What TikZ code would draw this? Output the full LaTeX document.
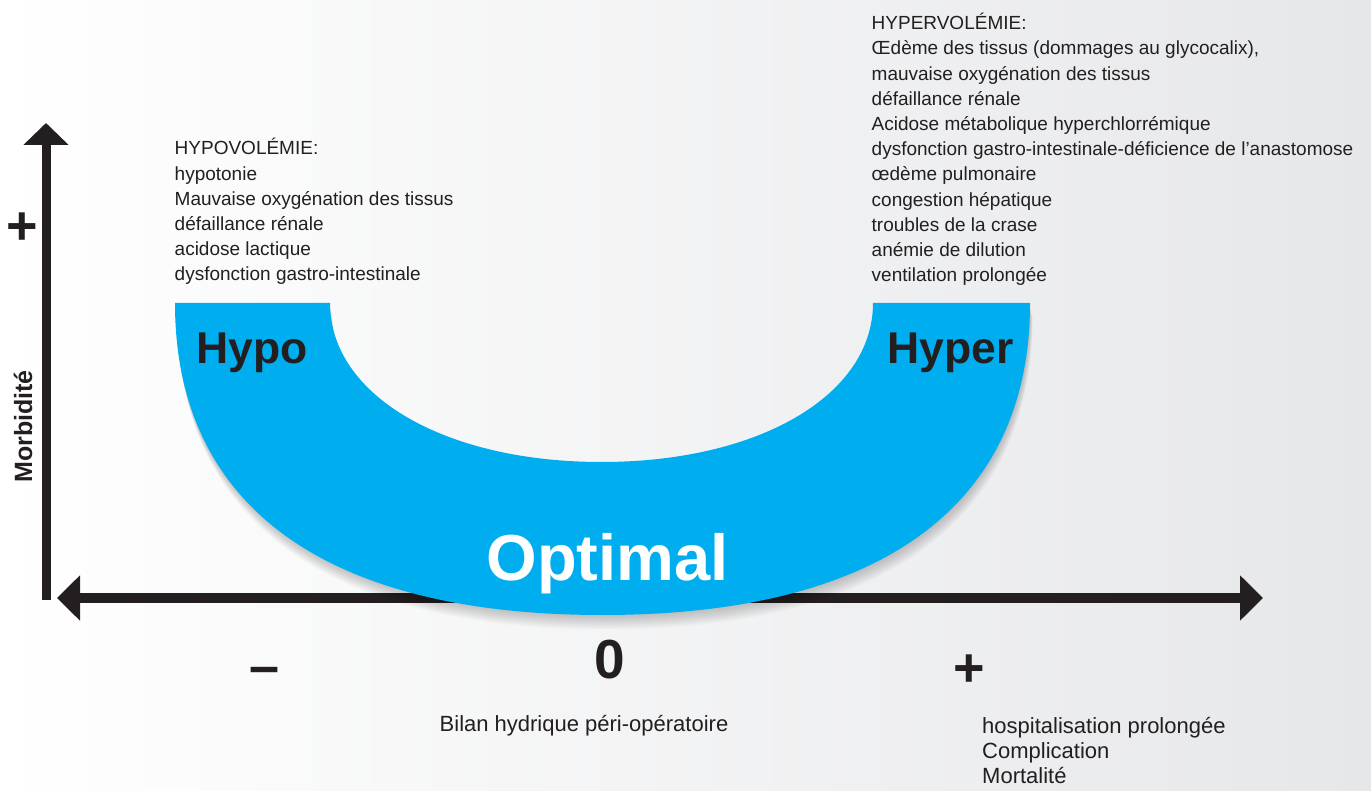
\documentclass[tikz,border=0pt]{standalone}
\usepackage{fontspec}
\setmainfont{Liberation Sans}
\usetikzlibrary{arrows.meta}
\definecolor{optblue}{RGB}{0,174,239}
\definecolor{inkblack}{RGB}{35,31,32}
\definecolor{bggray}{RGB}{230,231,233}
\newcommand{\bandpath}{(175,487) .. controls (175,284.2) and (324.6,175) .. (602.5,175)
        .. controls (880.4,175) and (1030,284.2) .. (1030,487)
        -- (873,487) .. controls (873,394.8) and (759,328) .. (601.5,328)
        .. controls (444,328) and (330,394.8) .. (330,487) -- cycle}
\begin{document}
\begin{tikzpicture}[x=1pt, y=1pt,
    axis/.style={line width=10pt, color=inkblack},
    list/.style={font=\fontsize{19}{25.2}\selectfont, text=inkblack, align=left, inner sep=0pt},
    note/.style={font=\fontsize{22}{24.7}\selectfont, text=inkblack, align=left, inner sep=0pt},
    sign/.style={font=\bfseries\fontsize{54}{60}\selectfont, text=inkblack, inner sep=0pt},
    bandlabel/.style={anchor=base west, inner sep=0pt, text=inkblack, font=\bfseries\fontsize{44.5}{50}\selectfont}]
    % background
    \useasboundingbox (0,0) rectangle (1371,790);
    \shade[left color=white, right color=bggray] (0,0) rectangle (1371,790);
    % axes
    \coordinate (xleft)  at (57,192);
    \coordinate (xright) at (1263,192);
    \coordinate (ybot)   at (46,190);
    \coordinate (ytop)   at (46,667);
    \draw[axis, line width=9pt, arrows={-{Triangle[width=44pt, length=22pt]}}] (ybot) -- (ytop);
    \draw[axis, arrows={{Triangle[width=44pt, length=23pt]}-{Triangle[width=44pt, length=23pt]}}] (xleft) -- (xright);
    % soft shadow under the band
    \foreach \s in {1,...,9}
        \fill[black, opacity=0.025, yshift=-1.6*\s pt, xshift=0.3*\s pt] \bandpath;
    % the U band
    \fill[optblue] \bandpath;
    % band labels
    \node[bandlabel] (hypo) at (196.5,426) {Hypo};
    \node[bandlabel] (hyper) at (887,426) {Hyper};
    \node[anchor=base west, inner sep=0pt, text=white, font=\bfseries\fontsize{65}{70}\selectfont] (optimal) at (486.5,209) {Optimal};
    % signs
    \node[sign] (yplus) at (22,561) {+};
    \node[sign] (xminus) at (265,114) {–};
    \node[sign, font=\bfseries\fontsize{55}{60}\selectfont] (xzero) at (610,130) {0};
    \node[sign] (xplus) at (969.6,119) {+};
    \node[rotate=90, inner sep=0pt, text=inkblack, font=\bfseries\fontsize{25}{30}\selectfont] (ylabel) at (23,363.5) {Morbidité};
    % lists
    \node[list, anchor=base west] (hypolist) at (174.5,509) {HYPOVOLÉMIE:\\hypotonie\\Mauvaise oxygénation des tissus\\défaillance rénale\\acidose lactique\\dysfonction gastro-intestinale};
    \node[list, anchor=base west] (hyperlist) at (871.5,508.3) {HYPERVOLÉMIE:\\Œdème des tissus (dommages au glycocalix),\\mauvaise oxygénation des tissus\\défaillance rénale\\Acidose métabolique hyperchlorrémique\\dysfonction gastro-intestinale-déficience de l’anastomose\\œdème pulmonaire\\congestion hépatique\\troubles de la crase\\anémie de dilution\\ventilation prolongée};
    \node[note, anchor=base west] (xlabel) at (439.5,58.3) {Bilan hydrique péri-opératoire};
    \node[note, anchor=base west] (outcome) at (982,7) {hospitalisation prolongée\\Complication\\Mortalité};
\end{tikzpicture}
\end{document}
